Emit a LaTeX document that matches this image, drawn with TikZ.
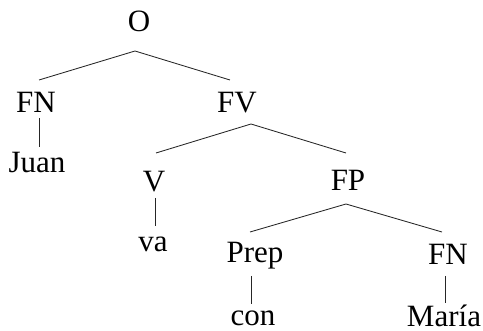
\documentclass[tikz,border=0pt]{standalone}
\usepackage{fontspec}
\setmainfont{Liberation Serif}
\begin{document}
\begin{tikzpicture}[x=1pt,y=-1pt,
  lbl/.style={inner sep=0pt, anchor=base, font=\fontsize{31}{37}\selectfont},
  branch/.style={line width=0.85pt, black!85}]
\useasboundingbox (0,0) rectangle (483,331);
% labels
\node[lbl] (O)    at (139,32)  {O};
\node[lbl] (FN)   at (36,113)  {FN};
\node[lbl] (FV)   at (237,113) {FV};
\node[lbl] (Juan) at (37,173)  {Juan};
\node[lbl] (V)    at (154,192) {V};
\node[lbl] (FP)   at (348,191) {FP};
\node[lbl] (va)   at (153,252) {va};
\node[lbl] (Prep) at (255,263) {Prep};
\node[lbl] (FN2)  at (448,265) {FN};
\node[lbl] (con)  at (253,326) {con};
\node[lbl] (Maria) at (444,327) {María};
% connector points
\coordinate (O-a) at (135,51);  \coordinate (O-l) at (39,80);   \coordinate (O-r) at (230,80);
\coordinate (FV-a) at (251,124); \coordinate (FV-l) at (156,153); \coordinate (FV-r) at (346,153);
\coordinate (FP-a) at (346,204); \coordinate (FP-l) at (250,232); \coordinate (FP-r) at (442,232);
\coordinate (FN-t) at (39,118);  \coordinate (Juan-t) at (39,147);
\coordinate (V-t) at (155,198);  \coordinate (va-t) at (155,226);
\coordinate (Prep-t) at (251,276); \coordinate (con-t) at (251,304);
\coordinate (FN2-t) at (445,276);  \coordinate (Maria-t) at (445,303);
% connectors
\draw[branch] (O-l) -- (O-a) -- (O-r);
\draw[branch] (FV-l) -- (FV-a) -- (FV-r);
\draw[branch] (FP-l) -- (FP-a) -- (FP-r);
\draw[branch] (FN-t) -- (Juan-t);
\draw[branch] (V-t) -- (va-t);
\draw[branch] (Prep-t) -- (con-t);
\draw[branch] (FN2-t) -- (Maria-t);
\end{tikzpicture}
\end{document}
